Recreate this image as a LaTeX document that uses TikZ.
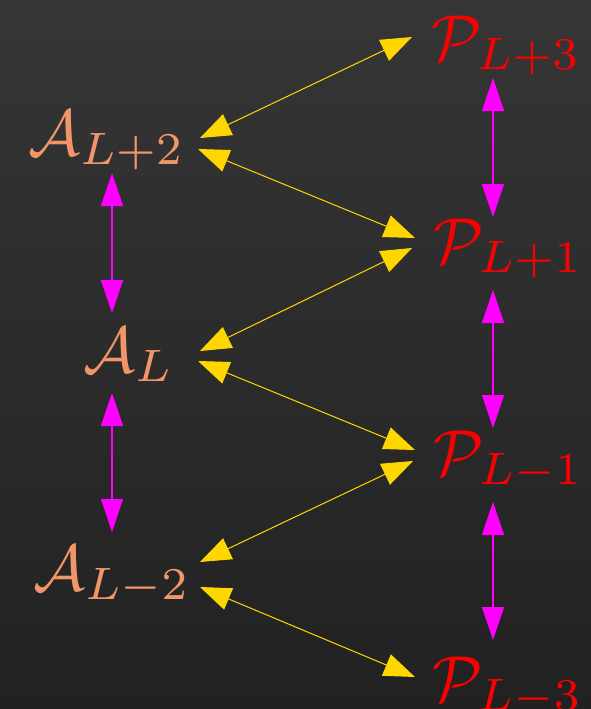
\documentclass[tikz,border=0pt]{standalone}
\usetikzlibrary{arrows.meta,calc}
\definecolor{aorange}{RGB}{242,150,105}
\definecolor{pred}{RGB}{250,0,0}
\definecolor{ygold}{RGB}{255,215,0}
\definecolor{mmag}{RGB}{255,0,255}
\begin{document}
\begin{tikzpicture}[x=1pt,y=-1pt,
  anode/.style={text=aorange,scale=6.5,inner sep=0pt,anchor=base west},
  pnode/.style={text=pred,scale=6.5,inner sep=0pt,anchor=base west},
  yarr/.style={ygold,line width=1pt,{Triangle[length=31pt,width=23pt]}-{Triangle[length=31pt,width=23pt]}},
  marr/.style={mmag,line width=1.4pt,{Triangle[length=33pt,width=22pt]}-{Triangle[length=33pt,width=22pt]}}]
\shade[top color=black!79,bottom color=black!87] (0,0) rectangle (591,709);
\useasboundingbox (0,0) rectangle (591,709);
% nodes
\node[anode] (A2) at (27,155) {$\mathcal{A}_{L+2}$};
\node[anode] (A0) at (82,372) {$\mathcal{A}_{L}$};
\node[anode] (Am2) at (32,590) {$\mathcal{A}_{L-2}$};
\node[pnode] (P3) at (430,60) {$\mathcal{P}_{L+3}$};
\node[pnode] (P1) at (432,263) {$\mathcal{P}_{L+1}$};
\node[pnode] (Pm1) at (432,475) {$\mathcal{P}_{L-1}$};
\node[pnode] (Pm3) at (431,701) {$\mathcal{P}_{L-3}$};
% magenta vertical links
\draw[marr] ($(A2.base west)+(85,18)$) -- ($(A0.base west)+(30,-59)$);
\draw[marr] ($(A0.base west)+(30,21)$) -- ($(Am2.base west)+(80,-58)$);
\draw[marr] ($(P3.base west)+(63,18)$) -- ($(P1.base west)+(61,-46)$);
\draw[marr] ($(P1.base west)+(61,27)$) -- ($(Pm1.base west)+(61,-47)$);
\draw[marr] ($(Pm1.base west)+(61,27)$) -- ($(Pm3.base west)+(62,-61)$);
% yellow diagonal links
\draw[yarr] ($(A2.base west)+(173,-17)$) -- ($(P3.base west)+(-18,-23)$);
\draw[yarr] ($(A2.base west)+(171,-6)$) -- ($(P1.base west)+(-17,-25)$);
\draw[yarr] ($(A0.base west)+(118,-21)$) -- ($(P1.base west)+(-20,-15)$);
\draw[yarr] ($(A0.base west)+(116,-11)$) -- ($(Pm1.base west)+(-17,-25)$);
\draw[yarr] ($(Am2.base west)+(168,-28)$) -- ($(Pm1.base west)+(-19,-14)$);
\draw[yarr] ($(Am2.base west)+(168,-3)$) -- ($(Pm3.base west)+(-16,-24)$);
\end{tikzpicture}
\end{document}
